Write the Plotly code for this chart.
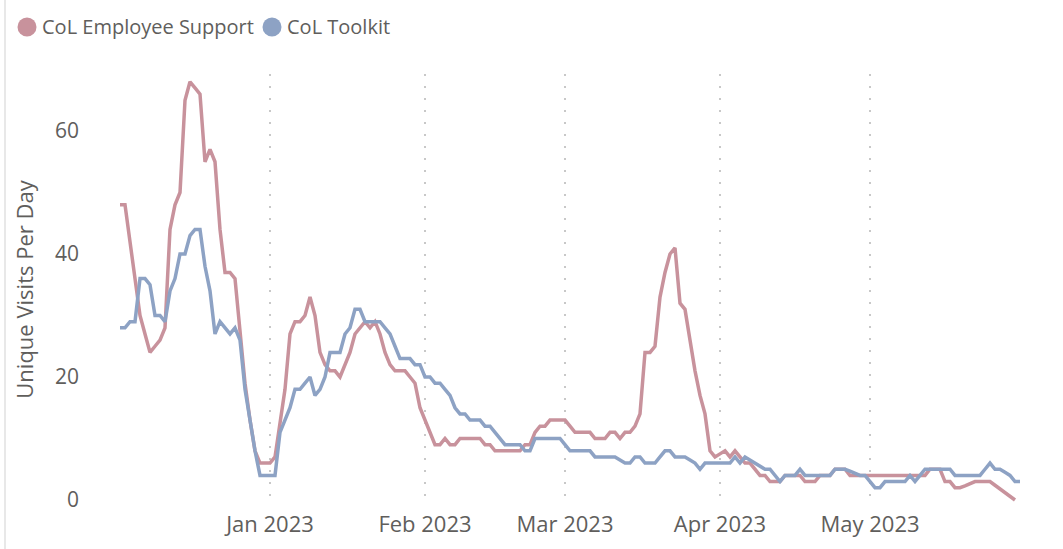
import pandas as pd
import plotly.graph_objects as go

# ---------------- data ----------------
start_date = "2022-12-02"

employee_support = [
    48, 48, 42, 36, 30, 27, 24, 25, 26, 28,
    44, 48, 50, 65, 68, 67, 66, 55, 57, 55,
    44, 37, 37, 36, 27, 19, 13, 8, 6, 6,
    6, 7, 13, 18, 27, 29, 29, 30, 33, 30,
    24, 22, 21, 21, 20, 22, 24, 27, 28, 29,
    28, 29, 27, 24, 22, 21, 21, 21, 20, 19,
    15, 13, 11, 9, 9, 10, 9, 9, 10, 10,
    10, 10, 10, 9, 9, 8, 8, 8, 8, 8,
    8, 9, 9, 11, 12, 12, 13, 13, 13, 13,
    12, 11, 11, 11, 11, 10, 10, 10, 11, 11,
    10, 11, 11, 12, 14, 24, 24, 25, 33, 37,
    40, 41, 32, 31, 26, 21, 17, 14, 8, 7,
    7.5, 8, 7, 8, 7, 6, 6, 5, 4, 4,
    3, 3, 3, 4, 4, 4, 4, 3, 3, 3,
    4, 4, 4, 5, 5, 5, 4, 4, 4, 4,
    4, 4, 4, 4, 4, 4, 4, 4, 4, 4,
    4, 4, 5, 5, 5, 3, 3, 2, 2, 2.3,
    2.7, 3, 3, 3, 3, 2.4, 1.8, 1.2, 0.6, 0,
]

toolkit = [
    28, 28, 29, 29, 36, 36, 35, 30, 30, 29,
    34, 36, 40, 40, 43, 44, 44, 38, 34, 27,
    29, 28, 27, 28, 26, 18, 13, 8, 4, 4,
    4, 4, 11, 13, 15, 18, 18, 19, 20, 17,
    18, 20, 24, 24, 24, 27, 28, 31, 31, 29,
    29, 29, 29, 28, 27, 25, 23, 23, 23, 22,
    22, 20, 20, 19, 19, 18, 17, 15, 14, 14,
    13, 13, 13, 12, 12, 11, 10, 9, 9, 9,
    9, 8, 8, 10, 10, 10, 10, 10, 10, 9,
    8, 8, 8, 8, 8, 7, 7, 7, 7, 7,
    6.5, 6, 6, 7, 7, 6, 6, 6, 7, 8,
    8, 7, 7, 7, 6.5, 6, 5, 6, 6, 6,
    6, 6, 6, 7, 6, 7, 6.5, 6, 5.5, 5,
    5, 4, 3, 4, 4, 4, 5, 4, 4, 4,
    4, 4, 4, 5, 5, 5, 4.7, 4.3, 4, 4,
    3, 2, 2, 3, 3, 3, 3, 3, 4, 3,
    4, 5, 5, 5, 5, 5, 5, 4, 4, 4,
    4, 4, 4, 5, 6, 5, 5, 4.5, 4, 3, 3,
]

series_names = ["CoL Employee Support", "CoL Toolkit"]
series_colors = ["#C8929C", "#8DA2C4"]

month_ticks = ["2023-01-01", "2023-02-01", "2023-03-01", "2023-04-01", "2023-05-01"]
month_labels = ["Jan 2023", "Feb 2023", "Mar 2023", "Apr 2023", "May 2023"]
y_ticks = [0, 20, 40, 60]
y_title = "Unique Visits Per Day"

# ---------------- layout geometry ----------------
W_PX, H_PX = 1063, 549
L, R, T, B = 100, 1040, 74, 505
PW, PH = R - L, B - T


def px_x(px):
    return (px - L) / PW


def px_y(py):
    return (B - py) / PH


FONT = "Segoe UI, Open Sans, sans-serif"
TXT = "#605E5C"

dates_support = pd.date_range(start_date, periods=len(employee_support), freq="D")
dates_toolkit = pd.date_range(start_date, periods=len(toolkit), freq="D")

fig = go.Figure()
fig.add_trace(go.Scatter(
    x=dates_support, y=employee_support, mode="lines", name=series_names[0],
    line=dict(color=series_colors[0], width=3.5), showlegend=False,
))
fig.add_trace(go.Scatter(
    x=dates_toolkit, y=toolkit, mode="lines", name=series_names[1],
    line=dict(color=series_colors[1], width=3.5), showlegend=False,
))

shapes = [
    dict(type="line", xref="paper", yref="paper",
         x0=px_x(5), x1=px_x(5), y0=px_y(0), y1=px_y(H_PX),
         line=dict(color="#E8E8E8", width=2)),
]
annotations = []
legend_items = [(27, 40, 0), (272, 285, 1)]
for cx, tx, k in legend_items:
    r = 9.5
    shapes.append(dict(type="circle", xref="paper", yref="paper",
                       x0=px_x(cx - r), x1=px_x(cx + r),
                       y0=px_y(27 + r), y1=px_y(27 - r),
                       fillcolor=series_colors[k], line=dict(width=0)))
    annotations.append(dict(text=series_names[k], xref="paper", yref="paper",
                            x=px_x(tx), y=px_y(27), xanchor="left", yanchor="middle",
                            showarrow=False, font=dict(family=FONT, size=20, color=TXT)))

x_start = pd.Timestamp(start_date) - pd.Timedelta(days=4)
x_end = pd.Timestamp(start_date) + pd.Timedelta(days=184)
y_lo = (500 - B) / 6.15
y_hi = (500 - T) / 6.15

fig.update_layout(
    width=W_PX, height=H_PX,
    margin=dict(l=L, r=W_PX - R, t=T, b=H_PX - B, autoexpand=False),
    paper_bgcolor="white", plot_bgcolor="white",
    shapes=shapes, annotations=annotations,
    showlegend=False,
    xaxis=dict(
        range=[x_start, x_end], tickvals=month_ticks, ticktext=month_labels,
        showgrid=True, gridcolor="#C8C8C8", gridwidth=1.5, griddash="2px,10px",
        zeroline=False, showline=False, ticks="",
        tickfont=dict(family=FONT, size=22, color=TXT), ticklabelstandoff=4,
    ),
    yaxis=dict(
        range=[y_lo, y_hi], tickvals=y_ticks,
        showgrid=False, zeroline=False, showline=False, ticks="",
        tickfont=dict(family=FONT, size=21, color=TXT), ticklabelstandoff=20,
        title=dict(text=y_title, font=dict(family=FONT, size=22, color=TXT), standoff=15),
    ),
)

fig.write_html(
    "out.html",
    config={"displayModeBar": False},
    post_script="document.body.style.margin='0px';document.body.style.overflow='hidden';",
)
